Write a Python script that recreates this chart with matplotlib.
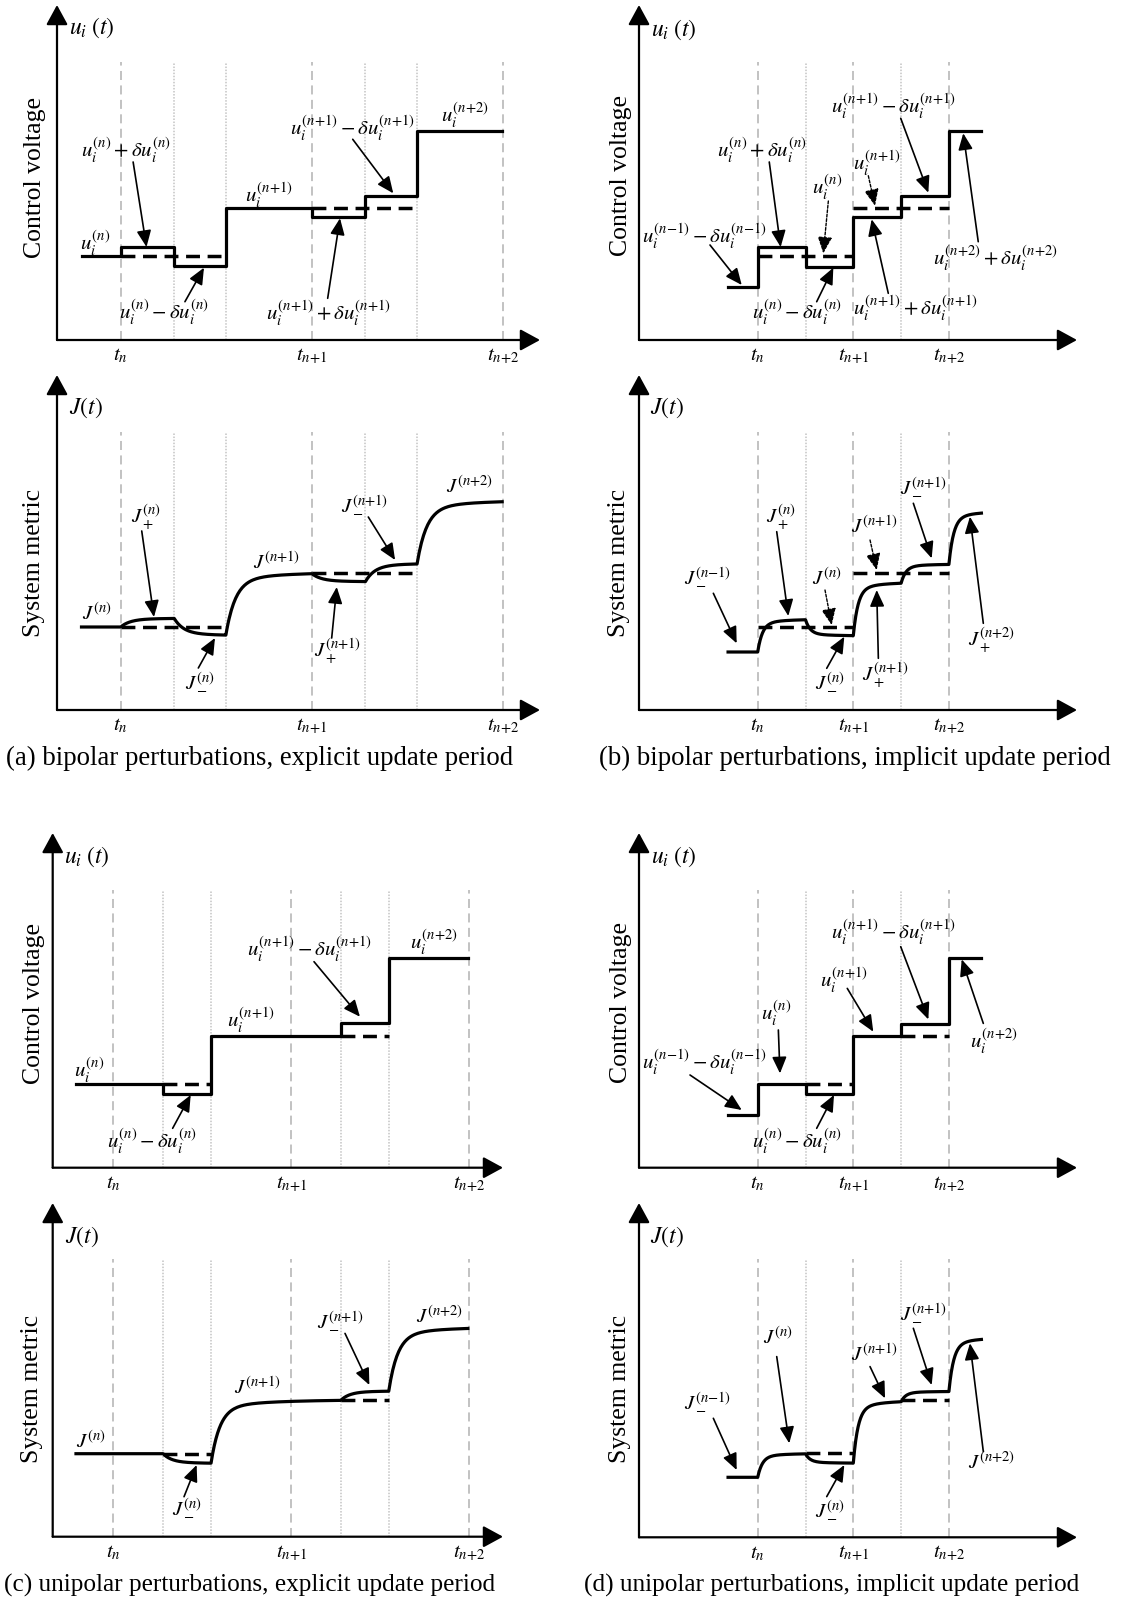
import numpy as np
import matplotlib.pyplot as plt

plt.rcParams['font.family'] = ['Liberation Serif', 'DejaVu Serif']
plt.rcParams['mathtext.fontset'] = 'stix'

W, H = 1135, 1601

# ---------------- data ----------------
TICK_LABELS = [r'$t_n$', r'$t_{n{+}1}$', r'$t_{n{+}2}$']
TICKS_EXPLICIT = [0, 2, 4]
TICKS_IMPLICIT = [0, 1, 2]
SUB_EXPLICIT = [0.56, 1.1, 2.56, 3.1]
SUB_IMPLICIT = [0.5, 1.5]

# (a) bipolar, explicit
T_A = [-0.41, 0, 0.56, 1.1, 2, 2.56, 3.1, 3.99]
U_A = [8.4, 9.3, 7.4, 13.2, 12.3, 14.4, 20.9]
J_A = [8.3, 9.2, 7.4, 13.8, 12.8, 14.7, 21.0]
REF_U_A = [(0, 1.1, 8.4), (2, 3.1, 13.2)]
REF_J_A = [(0, 1.1, 8.3), (2, 3.1, 13.7)]

# (b) bipolar, implicit
T_B = [-0.31, 0, 0.5, 1, 1.5, 2, 2.34]
U_B = [5.3, 9.3, 7.3, 12.3, 14.4, 20.9]
J_B = [5.8, 9.1, 7.4, 12.8, 14.6, 19.9]
REF_U_B = [(0, 1, 8.4), (1, 2, 13.2)]
REF_J_B = [(0, 1, 8.3), (1, 2, 13.7)]

# (c) unipolar, explicit
T_C = [-0.42, 0.56, 1.1, 2.56, 3.1, 3.99]
U_C = [8.4, 7.4, 13.2, 14.5, 21.0]
J_C = [8.3, 7.3, 13.7, 14.6, 21.0]
REF_U_C = [(0.56, 1.1, 8.4), (2.56, 3.1, 13.2)]
REF_J_C = [(0.56, 1.1, 8.3), (2.56, 3.1, 13.7)]

# (d) unipolar, implicit
T_D = [-0.31, 0, 0.5, 1, 1.5, 2, 2.34]
U_D = [5.3, 8.4, 7.4, 13.2, 14.4, 21.0]
J_D = [6.0, 8.4, 7.4, 13.7, 14.6, 20.0]
REF_U_D = [(0.5, 1, 8.4), (1.5, 2, 13.2)]
REF_J_D = [(0.5, 1, 8.4), (1.5, 2, 13.7)]

U_N = r'$u_i^{(n)}$'
U_N1 = r'$u_i^{(n{+}1)}$'
U_N2 = r'$u_i^{(n{+}2)}$'
U_PN = r'$u_i^{(n)}+\delta u_i^{(n)}$'
U_MN = r'$u_i^{(n)}-\delta u_i^{(n)}$'
U_M1 = r'$u_i^{(n{+}1)}-\delta u_i^{(n{+}1)}$'
U_P1 = r'$u_i^{(n{+}1)}+\delta u_i^{(n{+}1)}$'
U_MP = r'$u_i^{(n{-}1)}-\delta u_i^{(n{-}1)}$'
U_P2 = r'$u_i^{(n{+}2)}+\delta u_i^{(n{+}2)}$'
J_N = r'$J^{(n)}$'
J_N1 = r'$J^{(n{+}1)}$'
J_N2 = r'$J^{(n{+}2)}$'
J_PN = r'$J_+^{(n)}$'
J_MN = r'$J_-^{(n)}$'
J_P1 = r'$J_+^{(n{+}1)}$'
J_M1 = r'$J_-^{(n{+}1)}$'
J_MP = r'$J_-^{(n{-}1)}$'
J_P2 = r'$J_+^{(n{+}2)}$'

fig = plt.figure(figsize=(W / 100, H / 100), dpi=100)


def settle(times, levels, tau, pts=80):
    # first-order settling of the metric after each change of the control
    ts, vs = [], []
    v = levels[0]
    for k, lev in enumerate(levels):
        t = np.linspace(times[k], times[k + 1], pts)
        dt = t - times[k]
        decay = 0.88 * np.exp(-dt / tau) + 0.12 * np.exp(-dt / (6 * tau))
        seg = lev + (v - lev) * decay
        ts.append(t)
        vs.append(seg)
        v = seg[-1]
    return np.concatenate(ts), np.concatenate(vs)


def panel(box, times, levels, refs, ticks, subs, kind, ylab_xy, corner_xy,
          labels, arrows, tau=None):
    x0, xend, y0, ytop, xt, sx = box
    ax = fig.add_axes([x0 / W, 1 - y0 / H, (xend - x0) / W, (y0 - ytop) / H])
    ax.set_xlim((x0 - xt) / sx, (xend - xt) / sx)
    ax.set_ylim(0, (y0 - ytop) / 10)
    ax.axis('off')

    # axes with arrow heads
    for end in [(1, 0), (0, 1)]:
        ax.annotate('', xy=end, xytext=(0, 0), xycoords='axes fraction',
                    arrowprops=dict(arrowstyle='-|>,head_length=0.55,head_width=0.3',
                                    lw=1.6, color='k', shrinkA=0, shrinkB=0,
                                    mutation_scale=22))

    ax.vlines(ticks, 0, 27.8, colors='#bdbdbd', linestyles=(0, (5, 3)), lw=1.3)
    ax.vlines(subs, 0, 27.8, colors='#c4c4c4', linestyles=(0, (1, 1)), lw=1.1)

    if tau is None:
        ax.step(times, levels + [levels[-1]], where='post', color='k', lw=2.3)
    else:
        t, v = settle(times, levels, tau)
        ax.plot(t, v, color='k', lw=2.3)
    for a, b, lev in refs:
        ax.hlines(lev, a, b, colors='k', linestyles=(0, (4, 2.2)), lw=2.5)

    for x, lab in zip(ticks, TICK_LABELS):
        ax.text(x, -1.6, lab, ha='center', va='center', fontsize=15)

    cx, cy = corner_xy
    if kind == 'u':
        ax.text(*ylab_xy, 'Control voltage', rotation=90, ha='center', va='center', fontsize=18.5)
        ax.text(cx + 0.06, cy, r'$u_i\;\left(t\right)$', ha='left', va='center', fontsize=17)
    else:
        ax.text(*ylab_xy, 'System metric', rotation=90, ha='center', va='center', fontsize=18.5)
        ax.text(cx + 0.02, cy, r'$J\left(t\right)$', ha='left', va='center', fontsize=17)

    for lab, x, y in labels:
        ax.text(x, y, lab, ha='center', va='center', fontsize=15)
    for tail, head, dotted in arrows:
        ax.annotate('', xy=head, xytext=tail,
                    arrowprops=dict(arrowstyle='-|>,head_length=0.5,head_width=0.22',
                                    lw=1.2 if not dotted else 1.0, color='k',
                                    linestyle=(0, (2, 1.2)) if dotted else '-',
                                    shrinkA=0, shrinkB=0, mutation_scale=20))
    return ax


F, T = False, True

# (a)
panel((57, 540, 340, 5, 120.7, 95.6), T_A, U_A, REF_U_A, TICKS_EXPLICIT, SUB_EXPLICIT, 'u',
      (-0.896, 16.25), (-0.604, 31.2),
      [(U_N, -0.27, 9.7), (U_PN, 0.055, 19.0), (U_MN, 0.453, 2.8),
       (U_N1, 1.551, 14.5), (U_M1, 2.419, 21.2), (U_P1, 2.168, 2.7),
       (U_N2, 3.6, 22.5)],
      [((0.13, 17.8), (0.27, 9.3), F), ((0.672, 3.83), (0.871, 7.23), F),
       ((2.427, 20.07), (2.851, 14.67), F), ((2.165, 4.17), (2.294, 12.17), F)])
panel((57, 540, 710, 375, 120.7, 95.6), T_A, J_A, REF_J_A, TICKS_EXPLICIT, SUB_EXPLICIT, 'J',
      (-0.907, 14.7), (-0.562, 30.25),
      [(J_N, -0.248, 9.6), (J_PN, 0.265, 19.3), (J_MN, 0.83, 2.8),
       (J_N1, 1.635, 14.7), (J_P1, 2.27, 5.9),
       (J_M1, 2.547, 20.5), (J_N2, 3.65, 22.3)],
      [((0.22, 17.9), (0.348, 9.3), F), ((0.812, 4.2), (0.986, 7.2), F),
       ((2.207, 7.2), (2.26, 12.3), F), ((2.59, 19.3), (2.87, 15.0), F)], tau=0.1)

# (b)
panel((639, 1077, 340, 5, 757.7, 95.6), T_B, U_B, REF_U_B, TICKS_IMPLICIT, SUB_IMPLICIT, 'u',
      (-1.43, 16.4), (-1.178, 31.0),
      [(U_MP, -0.562, 10.4), (U_PN, 0.045, 19.0), (U_N, 0.73, 15.3),
       (U_MN, 0.41, 2.8), (U_N1, 1.247, 17.7), (U_M1, 1.414, 23.4),
       (U_P1, 1.645, 3.2), (U_P2, 2.482, 8.2)],
      [((-0.499, 9.5), (-0.167, 5.5), F), ((0.121, 17.8), (0.24, 9.3), F),
       ((0.739, 13.9), (0.686, 8.67), T), ((0.617, 3.83), (0.791, 7.23), F),
       ((1.157, 16.43), (1.227, 13.43), T), ((1.496, 22.17), (1.785, 14.73), F),
       ((1.366, 4.67), (1.192, 12.07), F), ((2.307, 9.83), (2.15, 20.67), F)])
panel((639, 1077, 710, 375, 757.7, 95.6), T_B, J_B, REF_J_B, TICKS_IMPLICIT, SUB_IMPLICIT, 'J',
      (-1.45, 14.75), (-1.147, 30.25),
      [(J_MP, -0.52, 13.3), (J_PN, 0.244, 19.3), (J_N, 0.725, 13.1),
       (J_MN, 0.756, 2.8), (J_N1, 1.227, 18.3),
       (J_P1, 1.333, 3.5), (J_M1, 1.73, 22.3),
       (J_P2, 2.45, 7.0)],
      [((-0.464, 11.67), (-0.22, 6.67), F), ((0.199, 17.83), (0.32, 9.4), F),
       ((0.704, 12.0), (0.774, 8.5), T), ((0.722, 4.17), (0.906, 7.33), F),
       ((1.175, 17.0), (1.245, 14.0), T), ((1.262, 5.17), (1.245, 12.0), F),
       ((1.628, 20.67), (1.82, 15.17), F), ((2.36, 8.67), (2.22, 19.33), F)], tau=0.05)

# (c)
panel((52.7, 503, 1167.7, 833, 113.3, 88.85), T_C, U_C, REF_U_C, TICKS_EXPLICIT, SUB_EXPLICIT, 'u',
      (-0.893, 16.4), (-0.611, 31.07),
      [(U_N, -0.268, 9.77), (U_MN, 0.441, 2.67), (U_N1, 1.55, 14.77),
       (U_M1, 2.206, 21.87), (U_N2, 3.61, 22.57)],
      [((0.668, 3.94), (0.871, 7.27), F), ((2.259, 20.6), (2.776, 15.1), F)])
panel((52.7, 503, 1536.7, 1203, 113.3, 88.85), T_C, J_C, REF_J_C, TICKS_EXPLICIT, SUB_EXPLICIT, 'J',
      (-0.915, 14.8), (-0.566, 29.97),
      [(J_N, -0.256, 9.47), (J_MN, 0.829, 2.87), (J_N1, 1.629, 14.87),
       (J_M1, 2.563, 21.57), (J_N2, 3.677, 21.97)],
      [((0.796, 4.0), (0.938, 7.17), F), ((2.608, 20.33), (2.882, 15.17), F)], tau=0.1)

# (d)
panel((639, 1077, 1167.7, 833, 757.7, 95.6), T_D, U_D, REF_U_D, TICKS_IMPLICIT, SUB_IMPLICIT, 'u',
      (-1.43, 16.5), (-1.178, 31.07),
      [(U_MP, -0.562, 10.57), (U_N, 0.19, 15.47), (U_MN, 0.41, 2.67),
       (U_N1, 0.902, 18.77), (U_M1, 1.414, 23.57), (U_N2, 2.472, 12.67)],
      [((-0.708, 9.27), (-0.167, 5.77), F), ((0.216, 13.77), (0.233, 9.43), F),
       ((0.617, 3.94), (0.798, 7.27), F), ((0.937, 17.93), (1.209, 13.6), F),
       ((1.496, 22.1), (1.785, 14.83), F), ((2.36, 14.43), (2.134, 20.83), F)])
panel((639, 1077, 1537.3, 1203, 757.7, 95.6), T_D, J_D, REF_J_D, TICKS_IMPLICIT, SUB_IMPLICIT, 'J',
      (-1.44, 14.8), (-1.147, 30.03),
      [(J_MP, -0.52, 13.53), (J_N, 0.21, 19.93), (J_MN, 0.756, 2.73),
       (J_N1, 1.227, 18.23), (J_M1, 1.73, 22.43), (J_N2, 2.45, 7.43)],
      [((-0.464, 11.9), (-0.22, 6.73), F), ((0.199, 18.07), (0.33, 9.4), F),
       ((0.722, 4.07), (0.906, 7.23), F), ((1.175, 17.07), (1.332, 13.9), F),
       ((1.628, 20.9), (1.82, 15.23), F), ((2.36, 8.57), (2.22, 19.4), F)], tau=0.05)

captions = [
    ('(a) bipolar perturbations, explicit update period', 260, 758, 19.3),
    ('(b) bipolar perturbations, implicit update period', 855, 758, 19.3),
    ('(c) unipolar perturbations, explicit update period', 250, 1585, 18.2),
    ('(d) unipolar perturbations, implicit update period', 832, 1585, 18.2),
]
for txt, px, py, fs in captions:
    fig.text(px / W, 1 - py / H, txt, ha='center', va='center', fontsize=fs)

fig.savefig('out.png', dpi=100)
